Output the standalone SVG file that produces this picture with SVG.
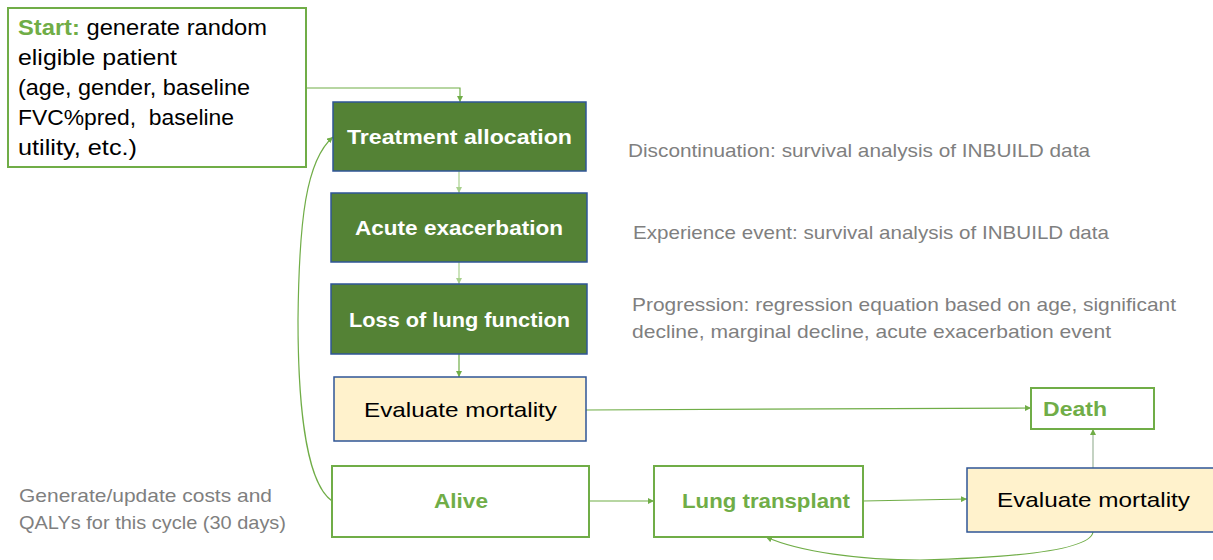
<svg xmlns="http://www.w3.org/2000/svg" width="1213" height="560" viewBox="0 0 1213 560">
<defs>
<marker id="ah" viewBox="0 0 10 10" refX="10" refY="5" markerWidth="6" markerHeight="6" markerUnits="userSpaceOnUse" orient="auto"><path d="M0,0 L10,5 L0,10 z" fill="#70AD47"/></marker>
<marker id="ahl" viewBox="0 0 10 10" refX="10" refY="5" markerWidth="6" markerHeight="6" markerUnits="userSpaceOnUse" orient="auto"><path d="M0,0 L10,5 L0,10 z" fill="#A9D18E"/></marker>
<style>
text{font-family:"Liberation Sans",Arial,sans-serif}
.dark{fill:#548235;stroke:#2F5597;stroke-width:1.5}
.yel{fill:#FFF2CC;stroke:#2F5597;stroke-width:1.5}
.wht{fill:#FFFFFF;stroke:#70AD47;stroke-width:2}
.wl{fill:#FFFFFF;font-weight:bold;font-size:21px}
.gl{fill:#70AD47;font-weight:bold;font-size:21px}
.bl{fill:#000000;font-size:21px}
.side{fill:#7F7F7F;font-size:19px}
.st{fill:#000000;font-size:22px}
.c{fill:none;stroke:#70AD47;stroke-width:1.2;marker-end:url(#ah)}
.cl{fill:none;stroke:#A9D18E;stroke-width:1.2;marker-end:url(#ahl)}
</style>
</defs>
<g id="connectors">
<path class="c" d="M306,88 H460 V102"/>
<path class="cl" d="M459,171 V193"/>
<path class="cl" d="M459,262 V284"/>
<path class="c" d="M459,354 V377"/>
<path class="c" d="M586,410 L1031,408"/>
<path class="c" d="M589,501 H654"/>
<path class="c" d="M863,501 L967,499"/>
<path class="c" d="M1093,468 V429" style="stroke:#9DB59A"/>
<path class="c" d="M1093,532 C1090,552 1000,558 920,560 C860,560 800,552 766,537"/>
<path class="c" d="M332,501 C302,480 298,380 298,320 C299,220 306,160 333,137"/>
</g>
<g id="start">
<rect class="wht" x="8" y="8" width="298" height="159"/>
<text class="st" x="18" y="35" textLength="249" lengthAdjust="spacingAndGlyphs"><tspan fill="#70AD47" font-weight="bold">Start:</tspan> generate random</text>
<text class="st" x="18" y="65" textLength="159" lengthAdjust="spacingAndGlyphs">eligible patient</text>
<text class="st" x="18" y="95" textLength="232" lengthAdjust="spacingAndGlyphs">(age, gender, baseline</text>
<text class="st" x="18" y="125" textLength="216" lengthAdjust="spacingAndGlyphs" xml:space="preserve">FVC%pred,  baseline</text>
<text class="st" x="18" y="155" textLength="119" lengthAdjust="spacingAndGlyphs">utility, etc.)</text>
</g>
<g id="treatment">
<rect class="dark" x="333" y="102" width="253" height="69"/>
<text class="wl" x="459.5" y="144" text-anchor="middle" textLength="225" lengthAdjust="spacingAndGlyphs">Treatment allocation</text>
</g>
<g id="acute">
<rect class="dark" x="331" y="193" width="256" height="69"/>
<text class="wl" x="459" y="235" text-anchor="middle" textLength="208" lengthAdjust="spacingAndGlyphs">Acute exacerbation</text>
</g>
<g id="loss">
<rect class="dark" x="331" y="284" width="256" height="70"/>
<text class="wl" x="459.5" y="327" text-anchor="middle" textLength="221" lengthAdjust="spacingAndGlyphs">Loss of lung function</text>
</g>
<g id="evalLeft">
<rect class="yel" x="334" y="377" width="252" height="64"/>
<text class="bl" x="460.5" y="417" text-anchor="middle" textLength="193" lengthAdjust="spacingAndGlyphs">Evaluate mortality</text>
</g>
<g id="alive">
<rect class="wht" x="332" y="466" width="257" height="71"/>
<text class="gl" x="461" y="508" text-anchor="middle" textLength="54" lengthAdjust="spacingAndGlyphs">Alive</text>
</g>
<g id="transplant">
<rect class="wht" x="654" y="466" width="209" height="71"/>
<text class="gl" x="766" y="508" text-anchor="middle" textLength="168" lengthAdjust="spacingAndGlyphs">Lung transplant</text>
</g>
<g id="evalRight">
<rect class="yel" x="967" y="468" width="250" height="64"/>
<text class="bl" x="1093.5" y="507" text-anchor="middle" textLength="193" lengthAdjust="spacingAndGlyphs">Evaluate mortality</text>
</g>
<g id="death">
<rect class="wht" x="1031" y="388" width="123" height="41"/>
<text class="gl" x="1043" y="416" textLength="64" lengthAdjust="spacingAndGlyphs">Death</text>
</g>
<g id="notes">
<text class="side" x="628" y="157" textLength="462" lengthAdjust="spacingAndGlyphs">Discontinuation: survival analysis of INBUILD data</text>
<text class="side" x="633" y="239" textLength="476" lengthAdjust="spacingAndGlyphs">Experience event: survival analysis of INBUILD data</text>
<text class="side" x="632" y="311" textLength="544" lengthAdjust="spacingAndGlyphs">Progression: regression equation based on age, significant</text>
<text class="side" x="632" y="338" textLength="479" lengthAdjust="spacingAndGlyphs">decline, marginal decline, acute exacerbation event</text>
<text class="side" x="19" y="502" textLength="253" lengthAdjust="spacingAndGlyphs">Generate/update costs and</text>
<text class="side" x="19" y="529" textLength="267" lengthAdjust="spacingAndGlyphs">QALYs for this cycle (30 days)</text>
</g>
</svg>
